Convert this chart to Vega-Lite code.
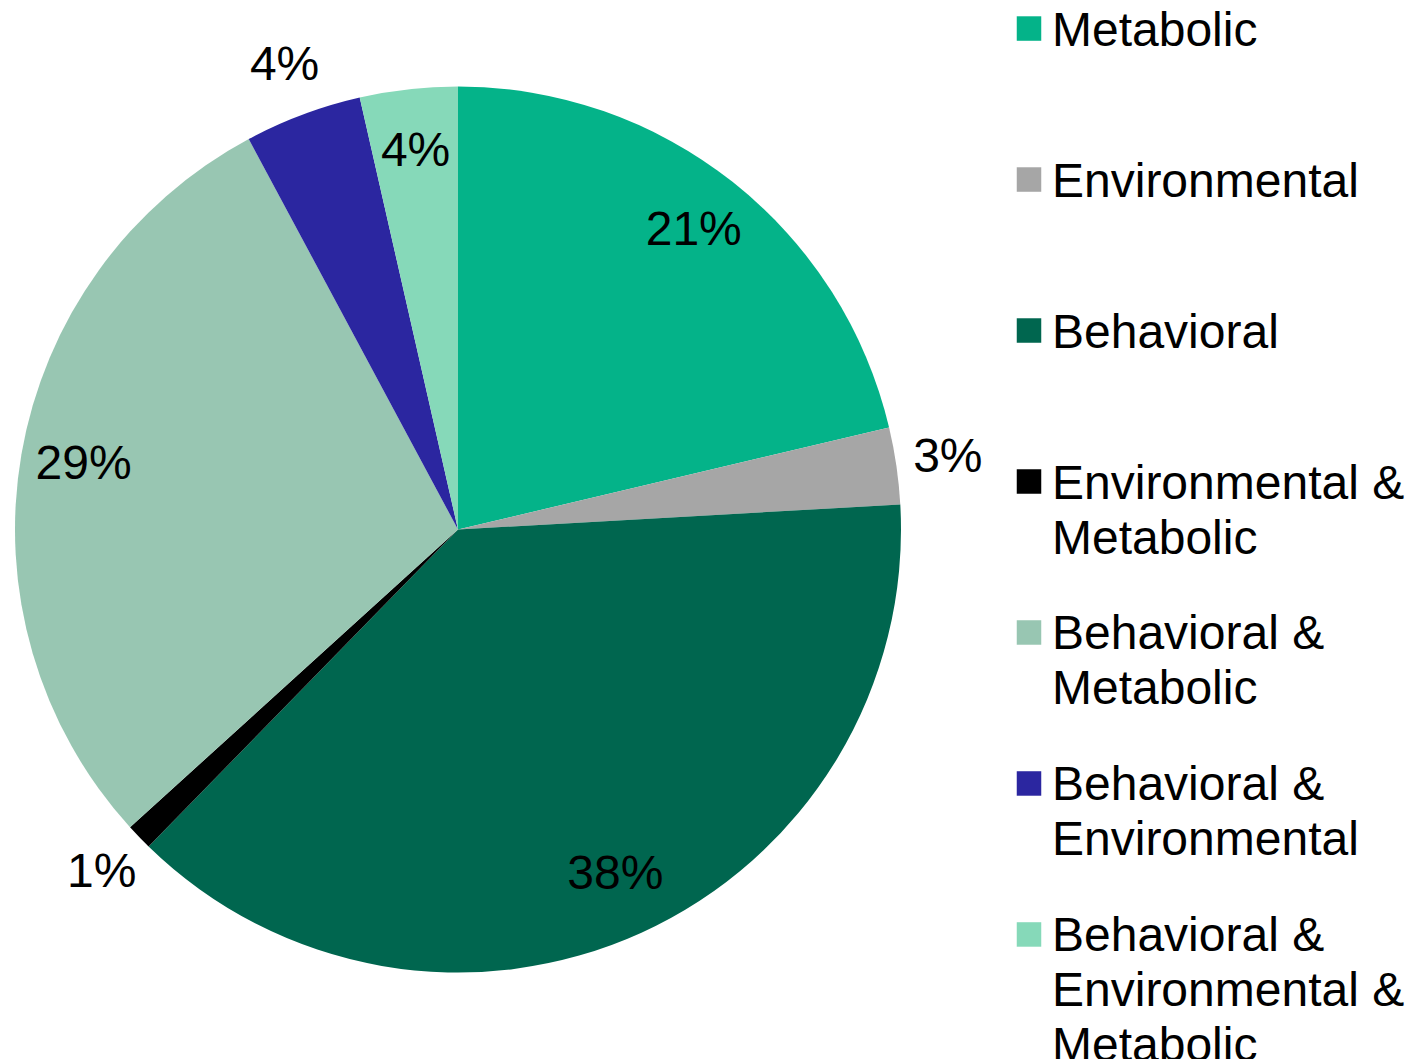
{
  "$schema": "https://vega.github.io/schema/vega-lite/v6.json",
  "padding": 0,
  "spacing": 0,
  "bounds": "flush",
  "background": "white",
  "config": {"view": {"stroke": null}, "font": "Liberation Sans"},
  "data": {
    "values": [
      {"category": "Metabolic", "value": 21.3, "label": "21%", "legendLabel": "Metabolic"},
      {"category": "Environmental", "value": 2.8, "label": "3%", "legendLabel": "Environmental"},
      {"category": "Behavioral", "value": 38.2, "label": "38%", "legendLabel": "Behavioral"},
      {"category": "Environmental & Metabolic", "value": 0.96, "label": "1%", "legendLabel": "Environmental &\nMetabolic"},
      {"category": "Behavioral & Metabolic", "value": 28.9, "label": "29%", "legendLabel": "Behavioral &\nMetabolic"},
      {"category": "Behavioral & Environmental", "value": 4.27, "label": "4%", "legendLabel": "Behavioral &\nEnvironmental"},
      {"category": "Behavioral & Environmental & Metabolic", "value": 3.56, "label": "4%", "legendLabel": "Behavioral &\nEnvironmental &\nMetabolic"}
    ]
  },
  "transform": [{"window": [{"op": "row_number", "as": "i"}]}],
  "hconcat": [
    {
      "width": 916,
      "height": 1059,
      "encoding": {
        "theta": {"field": "value", "type": "quantitative", "stack": true},
        "order": {"field": "i", "type": "quantitative"}
      },
      "layer": [
        {
          "mark": {"type": "arc", "outerRadius": 443},
          "encoding": {
            "color": {
              "field": "category", "type": "nominal", "legend": null,
              "scale": {
                "domain": ["Metabolic", "Environmental", "Behavioral", "Environmental & Metabolic", "Behavioral & Metabolic", "Behavioral & Environmental", "Behavioral & Environmental & Metabolic"],
                "range": ["#04B389", "#A6A6A6", "#00664F", "#000000", "#98C6B2", "#2B26A0", "#86D9B9"]
              }
            }
          }
        },
        {
          "mark": {
            "type": "text", "fontSize": 48, "color": "black",
            "radius": {"expr": "indexof(['Environmental','Environmental & Metabolic','Behavioral & Environmental'], datum.category) >= 0 ? 495 : 380"}
          },
          "encoding": {"text": {"field": "label"}}
        }
      ]
    },
    {
      "width": 226,
      "height": 963,
      "encoding": {
        "y": {
          "field": "category", "type": "nominal", "axis": null,
          "scale": {
            "type": "point", "padding": 0.189,
            "domain": ["Metabolic", "Environmental", "Behavioral", "Environmental & Metabolic", "Behavioral & Metabolic", "Behavioral & Environmental", "Behavioral & Environmental & Metabolic"]
          }
        }
      },
      "layer": [
        {
          "mark": {"type": "point", "shape": "square", "filled": true, "size": 600, "opacity": 1},
          "encoding": {
            "color": {"field": "category", "type": "nominal", "legend": null}
          }
        },
        {
          "mark": {"type": "text", "align": "left", "baseline": "alphabetic", "dx": 23, "dy": 17, "fontSize": 48, "lineHeight": 55, "lineBreak": "\n", "color": "black"},
          "encoding": {"text": {"field": "legendLabel"}}
        }
      ]
    }
  ]
}
